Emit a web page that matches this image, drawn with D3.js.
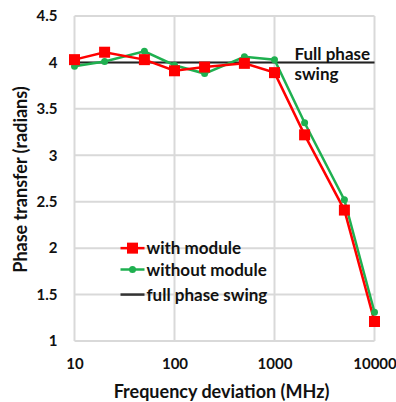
<!DOCTYPE html>
<html>
<head>
<meta charset="utf-8">
<script src="https://cdn.jsdelivr.net/npm/d3@7"></script>
<style>
  body { margin: 0; background: #fff; }
  text { font-family: Lato, "Open Sans", sans-serif; font-weight: bold; fill: #111; }
</style>
</head>
<body>
<div id="chart"></div>
<script>
// data
var freqs = [10, 20, 50, 100, 200, 500, 1000, 2000, 5000, 10000];
var withModule = [4.03, 4.11, 4.03, 3.91, 3.95, 3.99, 3.89, 3.22, 2.41, 1.21];
var withoutModule = [3.96, 4.01, 4.12, 3.97, 3.88, 4.06, 4.03, 3.35, 2.52, 1.31];
var fullSwing = 4;
var xTicks = [10, 100, 1000, 10000];
var yTicks = [1, 1.5, 2, 2.5, 3, 3.5, 4, 4.5];
var seriesNames = ['with module', 'without module', 'full phase swing'];

var W = 396, H = 402;
var margin = {top: 16, right: 21.5, bottom: 61, left: 74.5};
var w = W - margin.left - margin.right;
var h = H - margin.top - margin.bottom;

var svg = d3.select('#chart').append('svg')
    .attr('width', W)
    .attr('height', H)
    .append('g')
    .attr('transform', 'translate(' + margin.left + ',' + margin.top + ')');

var x = d3.scaleLog().domain([10, 10000]).range([0, w]);
var y = d3.scaleLinear().domain([1, 4.5]).range([h, 0]);

// grid
svg.selectAll('.vgrid').data(xTicks).enter().append('line')
    .attr('x1', function(d) { return x(d); })
    .attr('x2', function(d) { return x(d); })
    .attr('y1', 0).attr('y2', h)
    .attr('stroke', '#d9d9d9').attr('stroke-width', 2);
svg.selectAll('.hgrid').data(yTicks).enter().append('line')
    .attr('y1', function(d) { return y(d); })
    .attr('y2', function(d) { return y(d); })
    .attr('x1', 0).attr('x2', w)
    .attr('stroke', '#d9d9d9').attr('stroke-width', 2);

// axes (labels only)
var xAxis = svg.append('g')
    .attr('transform', 'translate(0,' + h + ')')
    .call(d3.axisBottom(x).tickValues(xTicks).tickFormat(d3.format('d')).tickSize(0).tickPadding(17));
xAxis.select('.domain').remove();
xAxis.selectAll('text').style('font-size', '15px').attr('fill', '#111');

var yAxis = svg.append('g')
    .call(d3.axisLeft(y).tickValues(yTicks).tickFormat(d3.format('')).tickSize(0).tickPadding(17));
yAxis.select('.domain').remove();
yAxis.selectAll('text').style('font-size', '15px').attr('fill', '#111');

// axis titles
svg.append('text')
    .attr('x', w / 2 - 3)
    .attr('y', h + 57)
    .attr('text-anchor', 'middle')
    .style('font-size', '18px')
    .text('Frequency deviation (MHz)');
svg.append('text')
    .attr('transform', 'translate(' + (-48) + ',' + (h / 2 + 1) + ') rotate(-90)')
    .attr('text-anchor', 'middle')
    .style('font-size', '18px')
    .text('Phase transfer (radians)');

// full phase swing line
svg.append('line')
    .attr('x1', x(10)).attr('x2', x(10000))
    .attr('y1', y(fullSwing)).attr('y2', y(fullSwing))
    .attr('stroke', '#222').attr('stroke-width', 2);

var line = d3.line()
    .x(function(d) { return x(d[0]); })
    .y(function(d) { return y(d[1]); });

var redData = freqs.map(function(f, i) { return [f, withModule[i]]; });
var greenData = freqs.map(function(f, i) { return [f, withoutModule[i]]; });

svg.append('path').datum(greenData)
    .attr('d', line).attr('fill', 'none')
    .attr('stroke', '#1fb050').attr('stroke-width', 2.5);
svg.append('path').datum(redData)
    .attr('d', line).attr('fill', 'none')
    .attr('stroke', '#ff0000').attr('stroke-width', 2.5);

svg.selectAll('.gdot').data(greenData).enter().append('circle')
    .attr('cx', function(d) { return x(d[0]); })
    .attr('cy', function(d) { return y(d[1]); })
    .attr('r', 3.5).attr('fill', '#1fb050');
svg.selectAll('.rsq').data(redData).enter().append('rect')
    .attr('x', function(d) { return x(d[0]) - 5.5; })
    .attr('y', function(d) { return y(d[1]) - 5.5; })
    .attr('width', 11).attr('height', 11).attr('fill', '#ff0000');

// annotation
svg.append('text').attr('x', 220).attr('y', y(fullSwing) - 2)
    .style('font-size', '17px').text('Full phase');
svg.append('text').attr('x', 220).attr('y', y(fullSwing) + 18)
    .style('font-size', '17px').text('swing');

// legend
var lg = svg.append('g').attr('transform', 'translate(46,0)');
var rows = [y(2), y(1.77), y(1.5)];
var colors = ['#ff0000', '#1fb050', '#333'];
rows.forEach(function(ry, i) {
    lg.append('line').attr('x1', 0).attr('x2', 24).attr('y1', ry).attr('y2', ry)
        .attr('stroke', colors[i]).attr('stroke-width', 2.5);
    if (i === 0) {
        lg.append('rect').attr('x', 6.5).attr('y', ry - 5.5).attr('width', 11).attr('height', 11).attr('fill', colors[i]);
    } else if (i === 1) {
        lg.append('circle').attr('cx', 12).attr('cy', ry).attr('r', 3.5).attr('fill', colors[i]);
    }
    lg.append('text').attr('x', 26).attr('y', ry + 6)
        .style('font-size', '17px').text(seriesNames[i]);
});
</script>
</body>
</html>
